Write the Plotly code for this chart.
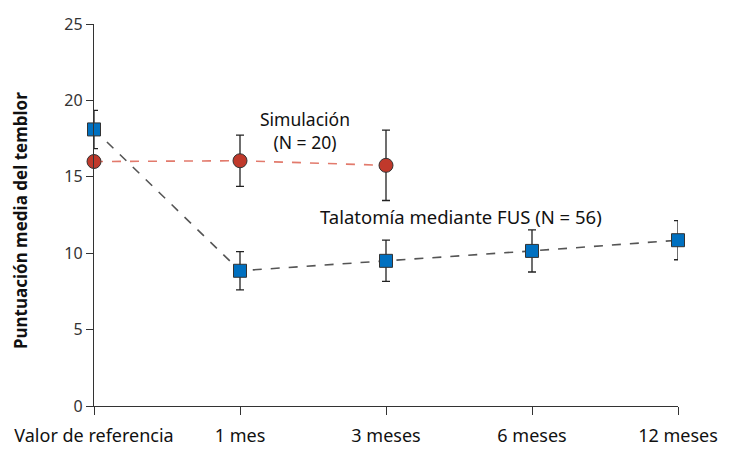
import plotly.graph_objects as go

categories = ["Valor de referencia", "1 mes", "3 meses", "6 meses", "12 meses"]

fus_values = [18.1, 8.85, 9.5, 10.15, 10.85]
fus_err = [1.25, 1.25, 1.35, 1.38, 1.28]

sim_categories = ["Valor de referencia", "1 mes", "3 meses"]
sim_values = [16.0, 16.05, 15.75]
sim_err = [0.0, 1.68, 2.3]

y_ticks = [0, 5, 10, 15, 20, 25]

xi = {c: i for i, c in enumerate(categories)}

fig = go.Figure()

fig.add_trace(go.Scatter(
    x=[xi[c] for c in categories], y=fus_values,
    mode="lines+markers",
    line=dict(color="#555555", width=1.6, dash="dash"),
    marker=dict(symbol="square", size=13, color="#0070C0",
                line=dict(color="#333333", width=1)),
    error_y=dict(type="data", array=fus_err, visible=True,
                 color="#222222", thickness=1.3, width=4),
    cliponaxis=False, showlegend=False,
))

fig.add_trace(go.Scatter(
    x=[xi[c] for c in sim_categories], y=sim_values,
    mode="lines+markers",
    line=dict(color="#E27A6C", width=1.6, dash="dash"),
    marker=dict(symbol="circle", size=14, color="#C0392B",
                line=dict(color="#333333", width=1)),
    error_y=dict(type="data", array=sim_err, visible=True,
                 color="#222222", thickness=1.3, width=4),
    cliponaxis=False, showlegend=False,
))

font_family = "Noto Sans, Open Sans, Liberation Sans, sans-serif"

fig.add_annotation(x=1.445, y=18.06, text="Simulación<br>(N = 20)",
                   showarrow=False, font=dict(size=17.5, color="#111111", family=font_family),
                   xanchor="center", yanchor="middle", align="center")
fig.add_annotation(x=2.514, y=12.43, text="Talatomía mediante FUS (N = 56)",
                   showarrow=False, font=dict(size=18.5, color="#111111", family=font_family),
                   xanchor="center", yanchor="middle")
fig.add_annotation(xref="paper", yref="paper", x=-0.1267, y=0.484,
                   text="<b>Puntuación media del temblor</b>", textangle=-90,
                   showarrow=False, font=dict(size=17, color="#111111", family=font_family),
                   xanchor="center", yanchor="middle")

fig.update_layout(
    width=721, height=442,
    margin=dict(l=86, r=51, t=16, b=44),
    paper_bgcolor="white", plot_bgcolor="white",
    font=dict(family=font_family, color="#222222"),
    xaxis=dict(
        range=[0, 4], tickmode="array",
        tickvals=list(range(len(categories))), ticktext=categories,
        showgrid=False, zeroline=False, automargin=False,
        showline=True, linecolor="#333333", linewidth=1.3,
        ticks="outside", ticklen=8, tickcolor="#333333", tickwidth=1.3,
        tickfont=dict(size=18, color="#111111"),
        ticklabelstandoff=5,
    ),
    yaxis=dict(
        range=[0, 25], tickmode="array", tickvals=y_ticks,
        showgrid=False, zeroline=False, automargin=False,
        showline=True, linecolor="#333333", linewidth=1.3,
        ticks="outside", ticklen=7, tickcolor="#333333", tickwidth=1.3,
        tickfont=dict(size=16, color="#333333"),
    ),
)

fig.write_html("out.html")
